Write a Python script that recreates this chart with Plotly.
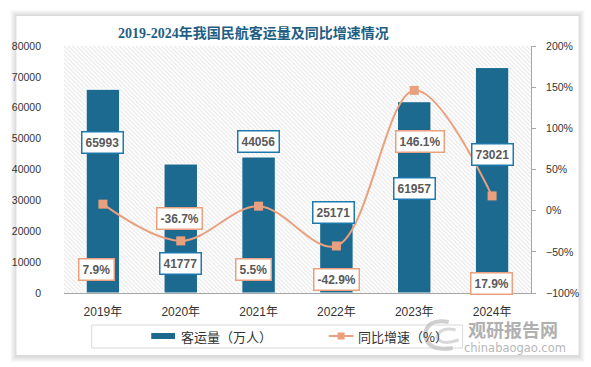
import plotly.graph_objects as go

# ---- data ----
years = ["2019年", "2020年", "2021年", "2022年", "2023年", "2024年"]
passengers = [65993, 41777, 44056, 25171, 61957, 73021]   # 万人
growth = [7.9, -36.7, 5.5, -42.9, 146.1, 17.9]            # %

# label placement (layout only)
bar_label_y = [48600, 9700, 49200, 26200, 34000, 44700]
bar_label_dx = [0, 0, 0, -3, 0, 0]
pct_label_y = [-72, -9, -71, -83, 84.6, -89]
pct_label_dx = [-6, -1, -5, 0, 6, -1]

W, H = 591, 367
L, R, T, B = 60, 60, 46, 74
PW, PH = W - L - R, H - T - B

def px(x):
    return (x - L) / PW

def py(y):
    return (H - B - y) / PH

BAR = "#1C6A8F"
ORANGE = "#E9A07E"
TXT = "#333333"

fig = go.Figure()

# hatched plot background
fig.add_trace(go.Scatter(
    x=[0, 1, 1, 0, 0], y=[0, 0, 1, 1, 0], xaxis="x", yaxis="y",
    mode="none", fill="toself", fillcolor="white",
    fillpattern=dict(shape="\\", fgcolor="#cdcdcd", bgcolor="white", size=3, solidity=0.35),
    hoverinfo="skip", showlegend=False))

fig.add_trace(go.Bar(
    x=years, y=passengers, xaxis="x2", yaxis="y2", name="客运量（万人）",
    marker=dict(color=BAR, line=dict(color="white", width=1)), width=0.43,
    showlegend=False))

fig.add_trace(go.Scatter(
    x=years, y=growth, xaxis="x2", yaxis="y3", name="同比增速（%）",
    mode="lines+markers", line=dict(color=ORANGE, width=2, shape="spline", smoothing=1.0),
    marker=dict(symbol="square", size=9, color=ORANGE), showlegend=False))

ann = []
for i, yr in enumerate(years):
    ann.append(dict(x=yr, y=bar_label_y[i], xref="x2", yref="y2", text=f"<b>{passengers[i]}</b>",
                    showarrow=False, xshift=bar_label_dx[i], xanchor="center", yanchor="middle",
                    font=dict(size=12, color="#595959", family="Liberation Sans"),
                    bgcolor="white", bordercolor="#1F78AC", borderwidth=1.5, borderpad=3))
    ann.append(dict(x=yr, y=pct_label_y[i], xref="x2", yref="y3", text=f"<b>{growth[i]}%</b>",
                    showarrow=False, xshift=pct_label_dx[i], xanchor="center", yanchor="middle",
                    font=dict(size=12, color="#595959", family="Liberation Sans"),
                    bgcolor="white", bordercolor=ORANGE, borderwidth=1.5, borderpad=3))

def txt(x, y, text, size, color, family, xanchor="left", opacity=1.0):
    return dict(x=px(x), y=py(y), xref="paper", yref="paper", showarrow=False,
                xanchor=xanchor, yanchor="middle", text=text, opacity=opacity,
                font=dict(size=size, color=color, family=family))

# title
ann.append(txt(251, 33, "<b>2019-2024年我国民航客运量及同比增速情况</b>", 14, "#1F5E84",
               "Liberation Serif, Noto Sans CJK SC", xanchor="center"))
# legend texts
ann.append(txt(176, 336, "客运量（万人）", 13, TXT, "Noto Sans CJK SC"))
ann.append(txt(355, 336, "同比增速（%）", 13, TXT, "Noto Sans CJK SC"))
# watermark
ann.append(txt(465, 329, "<b>观研报告网</b>", 18, "#a8a8a8", "Noto Sans CJK SC", opacity=0.9))
ann.append(txt(461, 348, "chinabaogao.com", 11.5, "#b0b0b0", "DejaVu Sans", opacity=0.9))

shapes = []
# card shadow + card
for k in range(6, 0, -1):
    shapes.append(dict(type="rect", xref="paper", yref="paper", layer="below",
                       x0=px(12 - k), x1=px(579 + k), y0=py(16 - k), y1=py(355 + k + 1),
                       fillcolor="rgba(0,0,0,0.022)", line=dict(width=0)))
shapes.append(dict(type="rect", xref="paper", yref="paper", layer="below",
                   x0=px(12), x1=px(579), y0=py(16), y1=py(355),
                   fillcolor="white", line=dict(width=0)))
# legend
shapes.append(dict(type="rect", xref="paper", yref="paper", x0=px(88), x1=px(462), y0=py(325), y1=py(348),
                   line=dict(color="#d9d9d9", width=1), fillcolor="rgba(0,0,0,0)"))
shapes.append(dict(type="rect", xref="paper", yref="paper", x0=px(148), x1=px(172), y0=py(333), y1=py(339),
                   line=dict(width=0), fillcolor=BAR))
shapes.append(dict(type="line", xref="paper", yref="paper", x0=px(327), x1=px(352), y0=py(336), y1=py(336),
                   line=dict(color=ORANGE, width=2)))
shapes.append(dict(type="rect", xref="paper", yref="paper", x0=px(336), x1=px(343), y0=py(332.5), y1=py(339.5),
                   line=dict(width=0), fillcolor=ORANGE))
# watermark logo arcs
shapes.append(dict(type="path", xref="paper", yref="paper",
                   path=f"M {px(448)},{py(322)} Q {px(425)},{py(318)} {px(424)},{py(336)} Q {px(428)},{py(352)} {px(452)},{py(348)}",
                   line=dict(color="#c4c4c4", width=4), opacity=0.8))
shapes.append(dict(type="path", xref="paper", yref="paper",
                   path=f"M {px(455)},{py(330)} Q {px(440)},{py(326)} {px(436)},{py(337)} Q {px(440)},{py(346)} {px(458)},{py(340)}",
                   line=dict(color="#cfcfcf", width=3), opacity=0.8))

tickfont = dict(size=10.5, color=TXT, family="Liberation Sans")

fig.update_layout(
    width=W, height=H, margin=dict(l=L, r=R, t=T, b=B),
    paper_bgcolor="white", plot_bgcolor="rgba(0,0,0,0)",
    showlegend=False, bargap=0.57, hovermode=False,
    annotations=ann, shapes=shapes,
    xaxis=dict(range=[0, 1], visible=False, fixedrange=True),
    yaxis=dict(range=[0, 1], visible=False, fixedrange=True),
    xaxis2=dict(overlaying="x", type="category", showgrid=False, zeroline=False,
                showline=True, linecolor="#a6a6a6", linewidth=1, ticks="",
                tickfont=dict(size=12, color=TXT, family="Liberation Sans, Noto Sans CJK SC"),
                ticklabelstandoff=8),
    yaxis2=dict(overlaying="y", side="left", range=[0, 80000], dtick=10000, tickformat="d",
                showgrid=False, zeroline=False, showline=False, ticks="", tickfont=tickfont,
                ticklabelstandoff=22),
    yaxis3=dict(overlaying="y", side="right", range=[-100, 200], dtick=50, ticksuffix="%",
                showgrid=False, zeroline=False, showline=True, linecolor="#a6a6a6", linewidth=1,
                ticks="outside", ticklen=4, tickcolor="#a6a6a6", tickfont=tickfont, ticklabelstandoff=8),
)

fig.write_html("out.html", config={"displayModeBar": False},
               post_script="document.body.style.margin='0';document.body.style.overflow='hidden';")
